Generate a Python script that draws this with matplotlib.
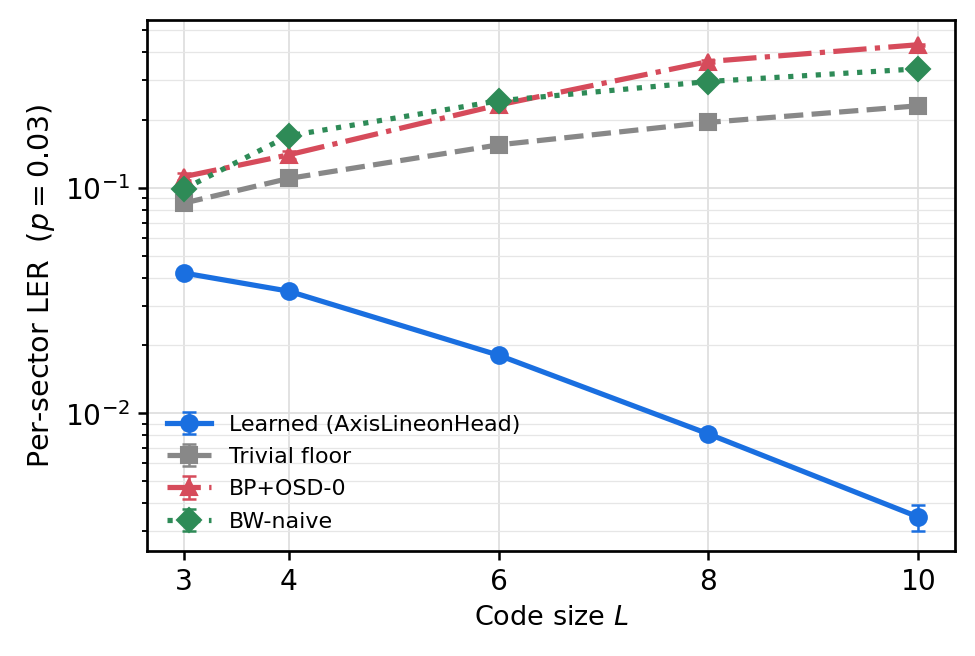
import matplotlib
matplotlib.use("Agg")
import matplotlib.pyplot as plt
import numpy as np

L = [3, 4, 6, 8, 10]
learned = [0.0419, 0.0348, 0.0181, 0.0081, 0.00347]
learned_err = [0.0012, 0.0010, 0.0006, 0.0004, 0.00045]
trivial = [0.0855, 0.110, 0.155, 0.195, 0.231]
trivial_err = [0.002, 0.002, 0.002, 0.002, 0.002]
bposd = [0.112, 0.140, 0.233, 0.363, 0.431]
bposd_err = [0.004, 0.006, 0.005, 0.005, 0.005]
bwnaive = [0.0987, 0.170, 0.243, 0.296, 0.337]
bwnaive_err = [0.004, 0.005, 0.005, 0.005, 0.005]

fig = plt.figure(figsize=(6.5, 4.375), dpi=150)
ax = fig.add_axes([0.1508, 0.1593, 0.8287, 0.8102])

kw = dict(lw=2.5, ms=8, capsize=3.4, capthick=1.2, elinewidth=1.2)
ax.errorbar(L, learned, yerr=learned_err, color='#1a6fe0', marker='o', ls='-',
            label='Learned (AxisLineonHead)', zorder=5, **kw)
ax.errorbar(L, trivial, yerr=trivial_err, color='#888888', marker='s', ls='--',
            label='Trivial floor', zorder=3, **kw)
ax.errorbar(L, bposd, yerr=bposd_err, color='#d64b5b', marker='^', ls='-.',
            label='BP+OSD-0', zorder=4, **kw)
ax.errorbar(L, bwnaive, yerr=bwnaive_err, color='#2e8b57', marker='D', ls=':',
            label='BW-naive', zorder=4, **kw)

ax.set_yscale('log')
ax.set_xlim(2.65, 10.35)
ax.set_ylim(0.00244, 0.556)
ax.set_xticks(L)
ax.set_xticklabels([str(v) for v in L])
ax.grid(True, which='major', color='#dddddd', lw=0.8)
ax.grid(True, which='minor', color='#e6e6e6', lw=0.6)
ax.set_axisbelow(True)
ax.tick_params(axis='both', which='major', labelsize=13.5, length=4.5, width=1.2)
ax.tick_params(axis='both', which='minor', length=2.5, width=0.9)
for s in ax.spines.values():
    s.set_linewidth(1.3)
ax.set_xlabel('Code size $L$', fontsize=13)
ax.set_ylabel('Per-sector LER  ($p = 0.03$)', fontsize=13.7)
ax.legend(loc='lower left', frameon=False, fontsize=10.6,
          handlelength=2.0, labelspacing=0.56)
fig.savefig('out.png', dpi=150)
